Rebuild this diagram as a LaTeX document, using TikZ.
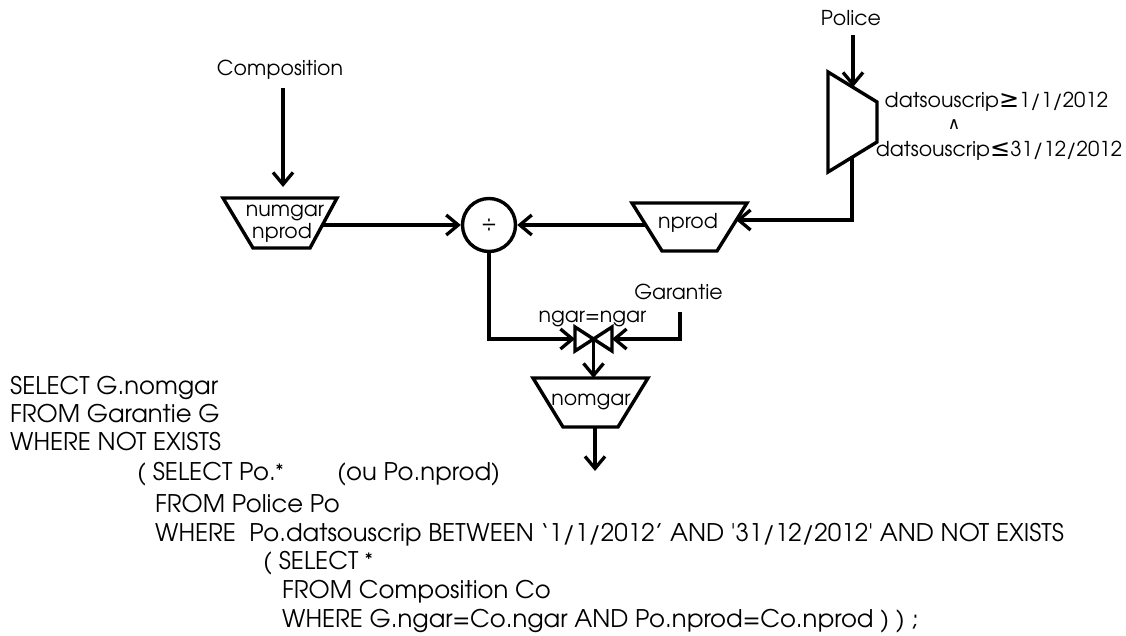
\documentclass[tikz,border=0pt]{standalone}
\usepackage{fontspec}
\setmainfont{texgyreadventor}[Extension=.otf, UprightFont=*-regular, BoldFont=*-bold, ItalicFont=*-italic, BoldItalicFont=*-bolditalic]
\newfontfamily\symfont{DejaVu Sans}
\newcommand\myast{\raisebox{3.5pt}{\fontsize{17}{17}\selectfont *}}
\usetikzlibrary{arrows.meta}
\begin{document}
\begin{tikzpicture}[x=1pt,y=-1pt,
  shp/.style={line width=3.4pt, line join=miter},
  conn/.style={line width=3.3pt},
  arr/.style={conn, -{Straight Barb[length=12pt,width=20pt]}},
  lab/.style={font=\fontsize{20.5}{24}\selectfont, inner sep=0pt, anchor=base},
  sql/.style={font=\fontsize{24.3}{29}\selectfont, inner sep=0pt, anchor=base west}]
\useasboundingbox (0,0) rectangle (1126,635);
% projection numgar / nprod
\coordinate (p1a) at (223,198); \coordinate (p1b) at (337,198);
\coordinate (p1c) at (310,248); \coordinate (p1d) at (253,248);
\draw[shp] (p1a) -- (p1b) -- (p1c) -- (p1d) -- cycle;
\node[lab] (t1a) at (285,216) {numgar};
\node[lab] (t1b) at (282,238) {nprod};
\coordinate (p1top) at (283,187);
\coordinate (p1out) at (323,225);
% Composition
\node[lab] (compo) at (280,75) {Composition};
\coordinate (compoS) at (283,88);
% division
\node[circle, draw, shp, minimum size=53pt, inner sep=0pt, font=\fontsize{22}{24}\selectfont] (div) at (489,225) {÷};
% selection
\coordinate (s1) at (828,72); \coordinate (s2) at (877,102);
\coordinate (s3) at (877,142); \coordinate (s4) at (828,172);
\draw[shp] (s1) -- (s2) -- (s3) -- (s4) -- cycle;
\node[lab] (police) at (851,25) {Police};
\coordinate (policeS) at (853,35);
\coordinate (selin) at (853,87);
\coordinate (selout) at (852,157);
\node[lab] (cond1) at (996.5,107) {datsouscrip{\symfont\fontsize{24}{24}\selectfont ≥}1/1/2012};
\node[inner sep=0pt, font=\symfont\fontsize{17}{17}\selectfont] (cond2) at (954,125) {∧};
\node[lab] (cond3) at (999,156) {datsouscrip{\symfont\fontsize{24}{24}\selectfont ≤}31/12/2012};
% projection nprod
\coordinate (p2a) at (632,203); \coordinate (p2b) at (747,203);
\coordinate (p2c) at (717,251); \coordinate (p2d) at (662,251);
\draw[shp] (p2a) -- (p2b) -- (p2c) -- (p2d) -- cycle;
\node[lab] (t2) at (688,228) {nprod};
\coordinate (p2in) at (736,220);
\coordinate (p2out) at (646,225);
% join
\coordinate (b1) at (575,327); \coordinate (b2) at (612,351);
\coordinate (b3) at (612,327); \coordinate (b4) at (575,351);
\draw[shp] (b1) -- (b2) -- (b3) -- (b4) -- cycle;
\coordinate (bowL) at (575,339); \coordinate (bowR) at (612,339);
\coordinate (bowC) at (593.5,339);
\node[lab] (jcond) at (592.5,322) {ngar=ngar};
\node[lab] (garantie) at (678.5,299) {Garantie};
\coordinate (garS) at (680,312);
% projection nomgar
\coordinate (p3a) at (533,378); \coordinate (p3b) at (648,378);
\coordinate (p3c) at (618,427); \coordinate (p3d) at (563,427);
\draw[shp] (p3a) -- (p3b) -- (p3c) -- (p3d) -- cycle;
\node[lab] (t3) at (591,405) {nomgar};
\coordinate (p3top) at (593.5,378);
\coordinate (p3bot) at (595,427);
\coordinate (result) at (595,471);
% connectors
\draw[arr] (compoS) -- (p1top);
\draw[arr] (policeS) -- (selin);
\draw[arr] (selout) |- (p2in);
\draw[arr] (p2out) -- (div);
\draw[arr] (p1out) -- (div);
\draw[arr] (div.south) |- (bowL);
\draw[arr] (garS) |- (bowR);
\draw[arr] (bowC) -- (p3top);
\draw[arr] (p3bot) -- (result);
% SQL
\node[sql] (q1) at (10,394) {SELECT G.nomgar};
\node[sql] (q2) at (10,422) {FROM Garantie G};
\node[sql] (q3) at (10,450) {WHERE NOT EXISTS};
\node[sql] (q4) at (137,480) {( SELECT Po.\myast};
\node[sql] (q4b) at (337,480) {(ou Po.nprod)};
\node[sql] (q5) at (155,512) {FROM Police Po};
\node[sql] (q6) at (155,541) {WHERE\ \ Po.datsouscrip BETWEEN ‘1/1/2012’ AND \textquotesingle31/12/2012\textquotesingle{} AND NOT EXISTS};
\node[sql] (q7) at (263,569) {( SELECT \myast};
\node[sql] (q8) at (282,598) {FROM Composition Co};
\node[sql] (q9) at (282,627) {WHERE G.ngar=Co.ngar AND Po.nprod=Co.nprod ) ) ;};
\end{tikzpicture}
\end{document}
